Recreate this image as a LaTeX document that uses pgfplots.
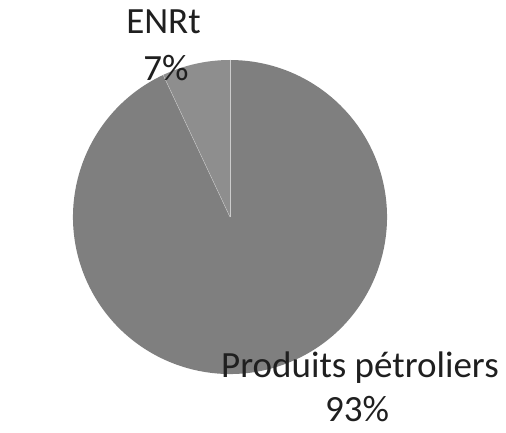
\documentclass[border=0pt]{standalone}
\usepackage{pgfplots}
\pgfplotsset{compat=1.18}
\usepackage{fontspec}
\setmainfont{Carlito}
\definecolor{mainslice}{HTML}{7F7F7F}
\definecolor{enrslice}{HTML}{8E8E8E}
% data (percent)
\def\valPP{93}
\def\valENR{7}
\begin{document}
\begin{tikzpicture}
\begin{axis}[
  width=506pt, height=432pt, scale only axis,
  xmin=0, xmax=506, ymin=0, ymax=432,
  hide axis, clip=false,
]
\pgfmathsetmacro{\aE}{90+\valENR*3.6}
\fill[enrslice] (axis cs:230,215) -- ++(90:157pt) arc[start angle=90, end angle=\aE, radius=157pt] -- cycle;
\fill[mainslice] (axis cs:230,215) -- ++(\aE:157pt) arc[start angle=\aE, end angle=450, radius=157pt] -- cycle;
\draw[white!60!gray, line width=0.4pt] (axis cs:230,215) -- ++(90:157pt);
\draw[white!60!gray, line width=0.4pt] (axis cs:230,215) -- ++(\aE:157pt);
\tikzset{lbl/.style={font=\fontsize{37}{44}\selectfont, text=black!88, anchor=base, inner sep=0pt}}
\node[lbl] at (axis cs:163.5,398) {ENRt};
\node[lbl] at (axis cs:166,351) {7\%};
\node[lbl] at (axis cs:360,55) {Produits pétroliers};
\node[lbl] at (axis cs:357,11) {93\%};
\path (axis cs:0,0) rectangle (axis cs:506,432);
\end{axis}
\end{tikzpicture}
\end{document}
